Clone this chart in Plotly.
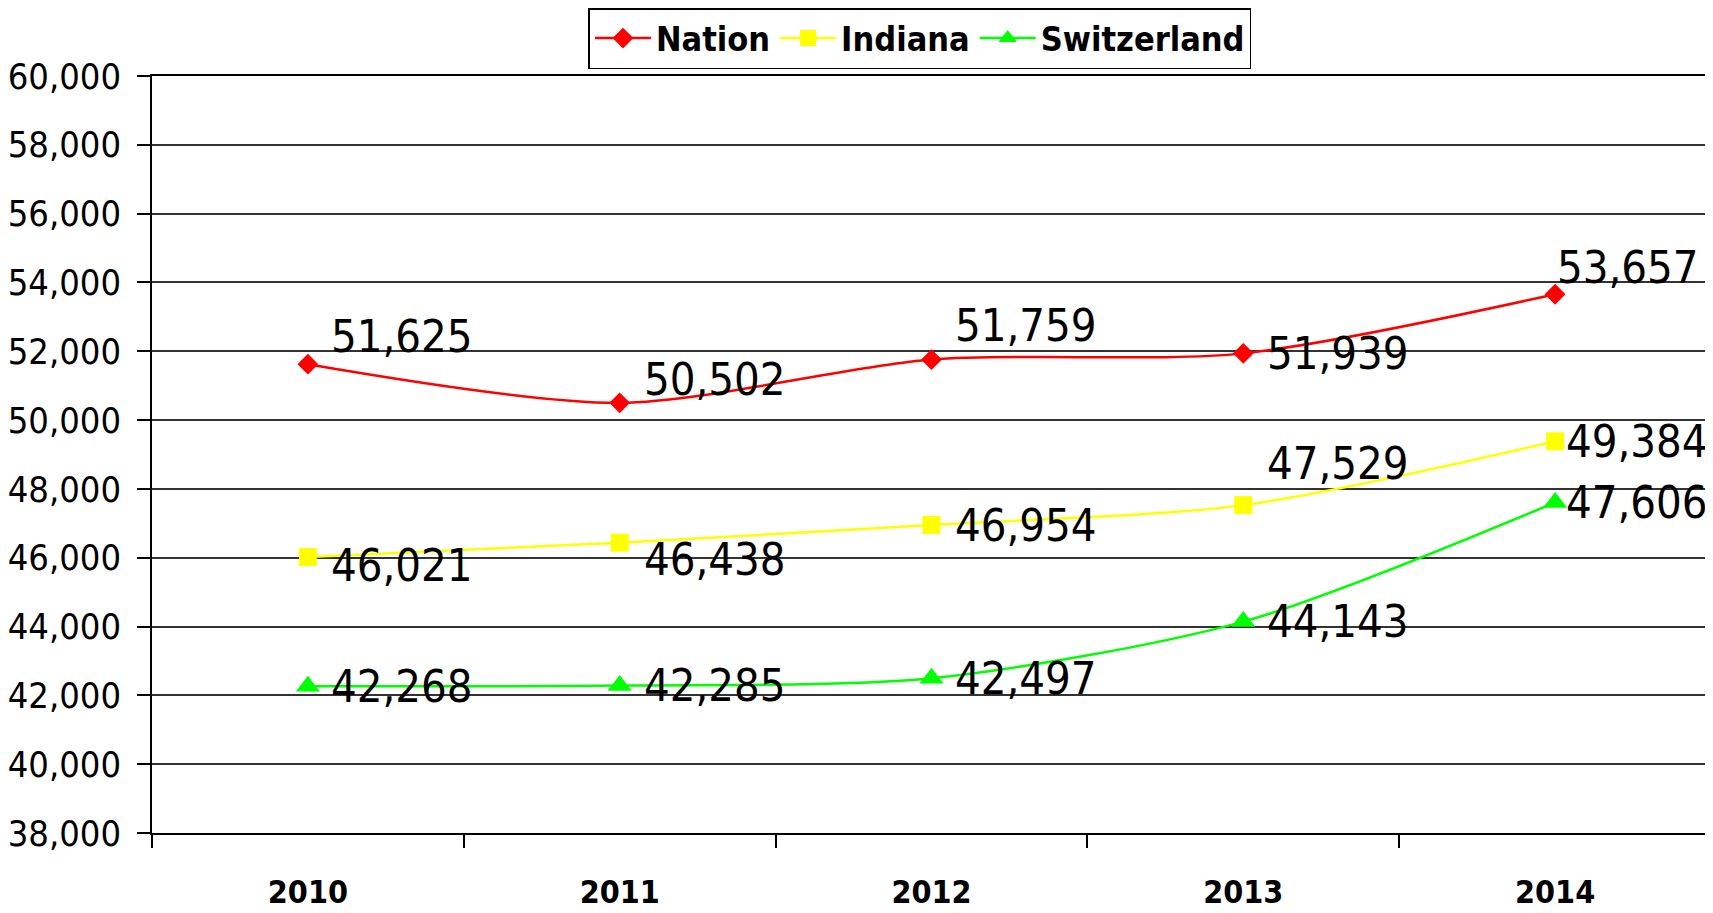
import plotly.graph_objects as go

# %%
years = ["2010", "2011", "2012", "2013", "2014"]
nation = [51625, 50502, 51759, 51939, 53657]
indiana = [46021, 46438, 46954, 47529, 49384]
switzerland = [42268, 42285, 42497, 44143, 47606]
y_ticks = list(range(38000, 60001, 2000))

FONT = "DejaVu Sans Condensed, DejaVu Sans, sans-serif"

# series styles and label pixel offsets (xshift, yshift) relative to each point
series = [
    dict(name="Nation", y=nation, color="#FF0000", symbol="diamond", size=16,
         dx=[21, 22, 21, 22, 0], dy=[28, 23, 34, 0, 27]),
    dict(name="Indiana", y=indiana, color="#FFFF00", symbol="square", size=18,
         dx=[21, 22, 21, 22, 9], dy=[-8, -17, -1, 42, 0]),
    dict(name="Switzerland", y=switzerland, color="#00FF00", symbol="triangle-up", size=21,
         dx=[21, 22, 21, 22, 9], dy=[0, 0, 0, 0, 0]),
]


# %%
def line_trace(s):
    return go.Scatter(
        x=years,
        y=s["y"],
        name=s["name"],
        mode="lines+markers",
        line=dict(color=s["color"], width=2.5, shape="spline", smoothing=0.8),
        marker=dict(symbol=s["symbol"], size=s["size"], color=s["color"]),
    )


fig = go.Figure([line_trace(s) for s in series])

# data labels (category index used as x so labels sit on the points)
for s in series:
    for i, (y, dx, dy) in enumerate(zip(s["y"], s["dx"], s["dy"])):
        fig.add_annotation(
            x=i, y=y, text=f"{y:,}", showarrow=False,
            xanchor="left", yanchor="middle", xshift=dx, yshift=dy,
            font=dict(family=FONT, size=45, color="black"),
        )

# the page body adds an 8px margin, so the figure is 8px smaller on each side
fig.update_layout(
    width=1705,
    height=905,
    margin=dict(l=144, r=2, t=68, b=80, autoexpand=False),
    paper_bgcolor="white",
    plot_bgcolor="white",
    font=dict(family=FONT, color="black"),
    legend=dict(
        orientation="h",
        x=0.4926, xanchor="center",
        y=1.0898, yanchor="top",
        bordercolor="black", borderwidth=1.5, bgcolor="white",
        font=dict(family=FONT, size=34, weight="bold"),
        itemwidth=56,
    ),
    xaxis=dict(
        type="category",
        range=[-0.5, 4.5],
        tickson="boundaries",
        ticks="outside", ticklen=13, tickcolor="black", tickwidth=1.5,
        showline=True, linecolor="black", linewidth=1.5, mirror=True,
        showgrid=False,
        tickfont=dict(family=FONT, size=32, weight="bold"),
        ticklabelstandoff=30,
    ),
    yaxis=dict(
        range=[38000, 60000],
        tickvals=y_ticks,
        tickformat=",",
        ticks="outside", ticklen=13, tickcolor="black", tickwidth=1.5,
        showline=True, linecolor="black", linewidth=1.5, mirror=True,
        gridcolor="#333333", gridwidth=1.5,
        zeroline=False,
        tickfont=dict(family=FONT, size=36),
        ticklabelstandoff=9,
    ),
)

fig.write_html("out.html")
